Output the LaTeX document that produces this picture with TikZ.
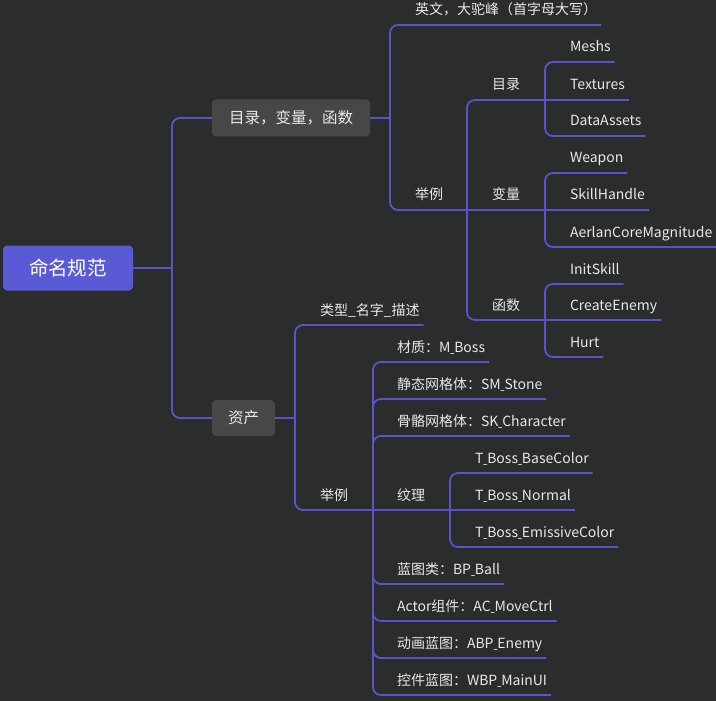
\documentclass[tikz,border=0pt]{standalone}
\usepackage{fontspec}
\setmainfont{Noto Sans CJK SC}
\definecolor{bg}{HTML}{2B2C2C}
\definecolor{rootfill}{HTML}{5B5AD6}
\definecolor{boxfill}{HTML}{464748}
\definecolor{linkc}{HTML}{5A53C9}
\definecolor{txt}{HTML}{E8E8E8}
% narrow underscore used inside asset names
\newcommand{\us}{\scalebox{0.5}[1]{\_}}
\begin{document}
\begin{tikzpicture}[x=1pt,y=-1pt,
  link/.style={draw=linkc, line width=1.8pt, rounded corners=8pt},
  label/.style={text=txt, font=\fontsize{14}{16}\selectfont, anchor=south west,
    inner xsep=4pt, inner ysep=7pt, outer sep=0pt, text height=10pt, text depth=3pt},
  rootbox/.style={fill=rootfill, rounded corners=4pt, text=white,
    font=\fontsize{19.5}{22}\selectfont, inner sep=0pt},
  topic/.style={fill=boxfill, rounded corners=4pt, text=txt,
    font=\fontsize{15.5}{18}\selectfont, inner sep=0pt}]

% canvas
\fill[bg] (0,0) rectangle (716,701);
\useasboundingbox (0,0) rectangle (716,701);

% main topics
\node[rootbox, minimum width=130pt, minimum height=45pt] (root) at (68,268) {命名规范};
\node[topic, minimum width=158pt, minimum height=37pt] (b1) at (291,118) {目录，变量，函数};
\node[topic, minimum width=63pt, minimum height=36pt] (b2) at (243.5,418) {资产};

% junctions on the vertical bars
\coordinate (j0) at (172,268);
\coordinate (j1) at (390,118);
\coordinate (j11) at (467,210);
\coordinate (j111) at (545,100);
\coordinate (j112) at (545,210);
\coordinate (j113) at (545,320);
\coordinate (j2) at (295,418);
\coordinate (j21) at (373,510);
\coordinate (j211) at (450,510);

% first branch
\node[label] (en) at (411,25) {英文，大驼峰（首字母大写）};
\node[label] (ex1) at (411,210) {举例};
\node[label] (mulu) at (488,100) {目录};
\node[label] (var) at (488,210) {变量};
\node[label] (func) at (488,320) {函数};
\node[label] (meshs) at (566,62) {Meshs};
\node[label] (textures) at (566,100) {Textures};
\node[label] (data) at (566,136) {DataAssets};
\node[label] (weapon) at (566,173) {Weapon};
\node[label] (skill) at (566,210) {SkillHandle};
\node[label] (aerlan) at (566,247) {AerlanCoreMagnitude};
\node[label] (init) at (566,284) {InitSkill};
\node[label] (create) at (566,320) {CreateEnemy};
\node[label] (hurt) at (566,357) {Hurt};

% second branch
\node[label] (type) at (316,325) {类型\_名字\_描述};
\node[label] (ex2) at (316,510) {举例};
\node[label] (mat) at (393,362) {材质：M\us Boss};
\node[label] (sm) at (393,399) {静态网格体：SM\us Stone};
\node[label] (sk) at (393,436) {骨骼网格体：SK\us Character};
\node[label] (tex) at (393,510) {纹理};
\node[label] (base) at (471,473) {T\us Boss\us BaseColor};
\node[label] (normal) at (471,510) {T\us Boss\us Normal};
\node[label] (emis) at (471,547) {T\us Boss\us EmissiveColor};
\node[label] (bp) at (393,584) {蓝图类：BP\us Ball};
\node[label] (ac) at (393,621) {Actor组件：AC\us MoveCtrl};
\node[label] (abp) at (393,658) {动画蓝图：ABP\us Enemy};
\node[label] (wbp) at (393,695) {控件蓝图：WBP\us MainUI};

% connectors: root
\draw[link] (root.east) -- (j0);
\draw[link] (j0) |- (b1.west);
\draw[link] (j0) |- (b2.west);

% connectors: first branch
\draw[link] (b1.east) -- (j1);
\draw[link] (j1) |- (en.south east);
\draw[link] (j1) |- (j11);
\draw[link] (j11) |- (j111);
\draw[link] (j11) -- (j112);
\draw[link] (j11) |- (j113);
\draw[link] (j111) |- (meshs.south east);
\draw[link] (j111) -- (textures.south east);
\draw[link] (j111) |- (data.south east);
\draw[link] (j112) |- (weapon.south east);
\draw[link] (j112) -- (skill.south east);
\draw[link] (j112) |- (aerlan.south east);
\draw[link] (j113) |- (init.south east);
\draw[link] (j113) -- (create.south east);
\draw[link] (j113) |- (hurt.south east);

% connectors: second branch
\draw[link] (b2.east) -- (j2);
\draw[link] (j2) |- (type.south east);
\draw[link] (j2) |- (j21);
\draw[link] (j21) |- (mat.south east);
\draw[link] (j21) |- (sm.south east);
\draw[link] (j21) |- (sk.south east);
\draw[link] (j21) -- (j211);
\draw[link] (j21) |- (bp.south east);
\draw[link] (j21) |- (ac.south east);
\draw[link] (j21) |- (abp.south east);
\draw[link] (j21) |- (wbp.south east);
\draw[link] (j211) |- (base.south east);
\draw[link] (j211) -- (normal.south east);
\draw[link] (j211) |- (emis.south east);
\end{tikzpicture}
\end{document}
